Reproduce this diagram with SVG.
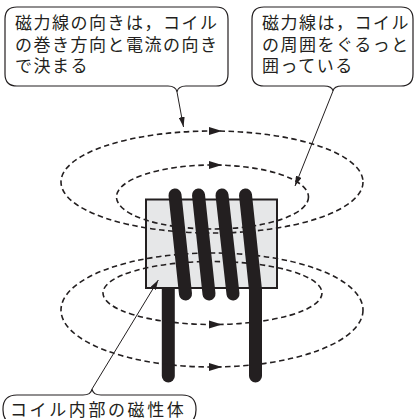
<svg xmlns="http://www.w3.org/2000/svg" width="414" height="419" viewBox="0 0 414 419">
  <style>
    .bubble { fill: #ffffff; stroke: #231f20; stroke-width: 1.2; }
    .label { font-family: "Liberation Sans", "Noto Sans CJK JP", sans-serif; font-size: 17px; letter-spacing: 1.5px; fill: #231f20; }
    .flux { fill: none; stroke: #231f20; stroke-width: 1.6; stroke-dasharray: 5.5 3.5; }
    .head { fill: #231f20; }
    .wire { fill: none; stroke: #231f20; stroke-width: 13; stroke-linecap: round; stroke-linejoin: round; }
    .leader { fill: none; stroke: #231f20; stroke-width: 1; }
  </style>
  <defs>
    <marker id="tip" viewBox="0 0 10 6" refX="10" refY="3" markerWidth="10" markerHeight="6" markerUnits="userSpaceOnUse" orient="auto">
      <path d="M0,0 L10,3 L0,6 Z" fill="#231f20"/>
    </marker>
  </defs>

  <!-- coil: lead that enters behind the core -->
  <g id="lead-left">
    <line class="wire" x1="168.3" y1="284" x2="168.3" y2="376"/>
  </g>

  <!-- magnetic core -->
  <g id="core">
    <rect x="146" y="199.5" width="131" height="88.5" fill="#e6e7e8" stroke="#231f20" stroke-width="2"/>
  </g>

  <!-- field lines around the coil -->
  <g id="field-lines">
    <ellipse class="flux" cx="212" cy="182" rx="151" ry="51"/>
    <ellipse class="flux" cx="212.5" cy="197" rx="96" ry="32"/>
    <ellipse class="flux" cx="212.5" cy="293" rx="109.5" ry="31.5"/>
    <ellipse class="flux" cx="212" cy="310" rx="151" ry="57"/>
    <polygon class="head" points="222,131 209,127 209,135"/>
    <polygon class="head" points="222,165 209,161 209,169"/>
    <polygon class="head" points="222,324.5 209,320.5 209,328.5"/>
    <polygon class="head" points="222,367 209,363 209,371"/>
  </g>

  <!-- windings over the core -->
  <g id="windings">
    <line class="wire" x1="175" y1="195" x2="185.5" y2="294"/>
    <line class="wire" x1="198.5" y1="195" x2="209" y2="294"/>
    <line class="wire" x1="222" y1="195" x2="233" y2="294"/>
    <path class="wire" d="M245.5,195 L255.5,290 L255.5,376"/>
  </g>

  <!-- callouts -->
  <g id="callout-direction">
    <path class="bubble" d="M17,7 H216 Q228,7 228,19 V74 Q228,86 216,86 H186 Q178,86 177,92 Q176,86 168,86 H17 Q5,86 5,74 V19 Q5,7 17,7 Z"/>
    <text class="label" x="15" y="29">磁力線の向きは，コイル<tspan x="15" dy="21.5">の巻き方向と電流の向き</tspan><tspan x="15" dy="21.5">で決まる</tspan></text>
  </g>

  <g id="callout-around">
    <path class="bubble" d="M264,7 H401 Q413,7 413,19 V74 Q413,86 401,86 H342 Q334,86 333,91 Q332,86 324,86 H264 Q252,86 252,74 V19 Q252,7 264,7 Z"/>
    <text class="label" x="262" y="29">磁力線は，コイル<tspan x="262" dy="21.5">の周囲をぐるっと</tspan><tspan x="262" dy="21.5">囲っている</tspan></text>
  </g>

  <g id="callout-core">
    <path class="bubble" d="M17,395 H83 Q91,395 92,389 Q93,395 101,395 H182 Q196,395 196,409 V410 Q196,424 182,424 H17 Q3,424 3,410 V409 Q3,395 17,395 Z"/>
    <text class="label" x="10" y="415.5" style="letter-spacing: 2.6px">コイル内部の磁性体</text>
  </g>

  <!-- leader lines -->
  <g id="leaders">
    <line class="leader" x1="177" y1="92" x2="183.5" y2="127" marker-end="url(#tip)"/>
    <line class="leader" x1="333" y1="91" x2="295" y2="186" marker-end="url(#tip)"/>
    <line class="leader" x1="92" y1="389" x2="158.3" y2="280" marker-end="url(#tip)"/>
  </g>
</svg>
